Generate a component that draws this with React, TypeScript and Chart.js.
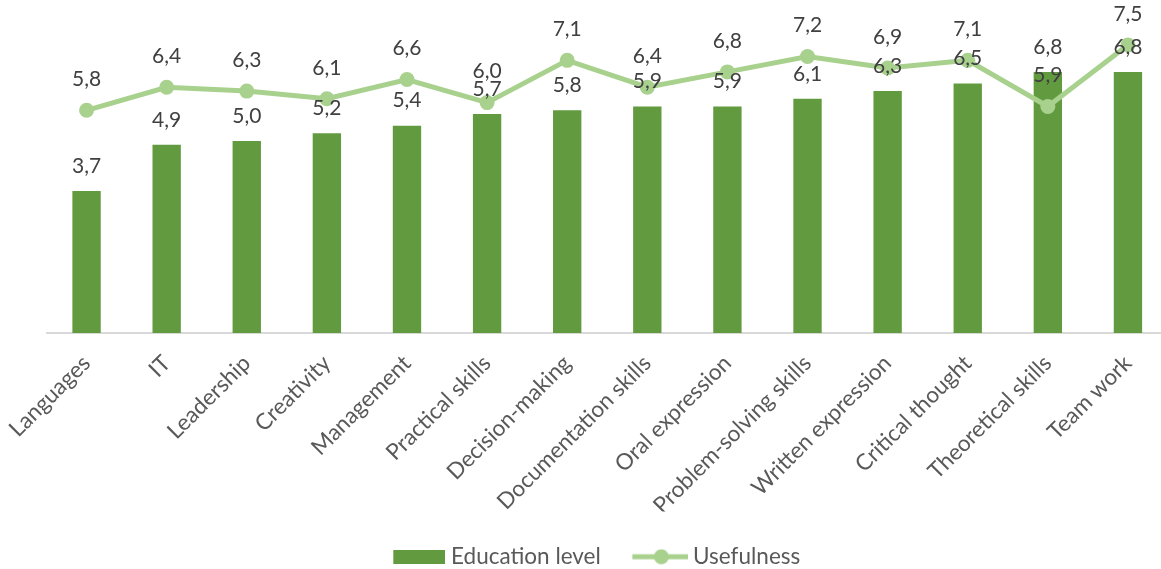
import React, { useEffect, useRef } from 'react';
import { Chart, registerables } from 'chart.js';

Chart.register(...registerables);

const categories = [
  'Languages',
  'IT',
  'Leadership',
  'Creativity',
  'Management',
  'Practical skills',
  'Decision-making',
  'Documentation skills',
  'Oral expression',
  'Problem-solving skills',
  'Written expression',
  'Critical thought',
  'Theoretical skills',
  'Team work',
];
const educationLevel = [3.7, 4.9, 5.0, 5.2, 5.4, 5.7, 5.8, 5.9, 5.9, 6.1, 6.3, 6.5, 6.8, 6.8];
const usefulness = [5.8, 6.4, 6.3, 6.1, 6.6, 6.0, 7.1, 6.4, 6.8, 7.2, 6.9, 7.1, 5.9, 7.5];
const seriesNames = ['Education level', 'Usefulness'];
const yMin = 0;
const yMax = 8;

const BAR_COLOR = '#629B3F';
const LINE_COLOR = '#A9D18E';
const FONT = 'Lato';
const LABEL_SIZE = 21;
const TEXT_SIZE = 22.5;

function makeBarSwatch() {
  const c = document.createElement('canvas');
  c.width = 58;
  c.height = 14;
  const g = c.getContext('2d')!;
  g.fillStyle = BAR_COLOR;
  g.fillRect(6, 0, 52, 14);
  return c;
}

function makeLineSwatch() {
  const c = document.createElement('canvas');
  c.width = 60;
  c.height = 16;
  const g = c.getContext('2d')!;
  g.strokeStyle = LINE_COLOR;
  g.lineWidth = 5;
  g.lineCap = 'butt';
  g.beginPath();
  g.moveTo(4, 8);
  g.lineTo(60, 8);
  g.stroke();
  g.fillStyle = LINE_COLOR;
  g.beginPath();
  g.arc(33, 8, 7.5, 0, Math.PI * 2);
  g.fill();
  return c;
}

const dataLabelsPlugin = {
  id: 'dataLabels',
  afterDatasetsDraw(chart: any) {
    const ctx = chart.ctx;
    ctx.save();
    ctx.font = `${LABEL_SIZE}px ${FONT}`;
    ctx.fillStyle = '#404040';
    ctx.textAlign = 'center';
    ctx.textBaseline = 'middle';
    chart.data.datasets.forEach((ds: any, di: number) => {
      const meta = chart.getDatasetMeta(di);
      const off = ds.type === 'line' ? 31 : 25;
      meta.data.forEach((el: any, i: number) => {
        const v = ds.data[i] as number;
        ctx.fillText(v.toFixed(1).replace('.', ','), el.x, el.y - off);
      });
    });
    ctx.restore();
  },
};

export default function App() {
  const ref = useRef<HTMLCanvasElement | null>(null);

  useEffect(() => {
    document.body.style.margin = '0';
    const canvas = ref.current;
    if (!canvas) return;
    const barSwatch = makeBarSwatch();
    const lineSwatch = makeLineSwatch();

    const chart = new Chart(canvas, {
      type: 'bar',
      data: {
        labels: categories,
        datasets: [
          {
            type: 'bar',
            label: seriesNames[0],
            data: educationLevel,
            backgroundColor: BAR_COLOR,
            borderWidth: 0,
            barPercentage: 0.354,
            categoryPercentage: 1,
            order: 2,
          } as any,
          {
            type: 'line',
            label: seriesNames[1],
            data: usefulness,
            borderColor: LINE_COLOR,
            backgroundColor: LINE_COLOR,
            borderWidth: 5,
            pointRadius: 7.5,
            pointBackgroundColor: LINE_COLOR,
            pointBorderWidth: 0,
            tension: 0,
            clip: false,
            order: 1,
          } as any,
        ],
      },
      options: {
        responsive: false,
        animation: false,
        layout: { autoPadding: false, padding: { left: 25, right: 0, top: 25.8, bottom: 0 } },
        scales: {
          x: {
            offset: true,
            grid: { display: false, drawTicks: false },
            border: { display: true, color: '#D9D9D9', width: 2 },
            ticks: {
              autoSkip: false,
              minRotation: 45,
              maxRotation: 45,
              padding: 17,
              color: '#595959',
              font: { family: FONT, size: TEXT_SIZE },
            },
            afterFit: (s: any) => {
              s.height = 178.5;
              s.paddingLeft = 0;
              s.paddingRight = 0;
            },
          },
          y: {
            min: yMin,
            max: yMax,
            display: true,
            grid: { display: false, drawTicks: false },
            border: { display: false },
            ticks: { display: false },
            afterFit: (s: any) => {
              s.width = 21.5;
              s.paddingTop = 0;
              s.paddingBottom = 0;
            },
          },
        },
        plugins: {
          tooltip: { enabled: false },
          legend: {
            display: true,
            position: 'bottom',
            labels: {
              usePointStyle: true,
              pointStyleWidth: 47,
              padding: 34,
              color: '#595959',
              font: { family: FONT, size: TEXT_SIZE },
              generateLabels: () => [
                {
                  text: seriesNames[0],
                  pointStyle: barSwatch as any,
                  fillStyle: BAR_COLOR,
                  strokeStyle: 'transparent',
                  lineWidth: 0,
                  hidden: false,
                  datasetIndex: 0,
                  fontColor: '#595959',
                },
                {
                  text: seriesNames[1],
                  pointStyle: lineSwatch as any,
                  fillStyle: LINE_COLOR,
                  strokeStyle: 'transparent',
                  lineWidth: 0,
                  hidden: false,
                  datasetIndex: 1,
                  fontColor: '#595959',
                },
              ],
            },
          },
        },
      },
      plugins: [dataLabelsPlugin],
    });
    return () => chart.destroy();
  }, []);

  return (
    <div style={{ width: 1161, height: 569, overflow: 'hidden', background: '#fff' }}>
      <div style={{ width: 1168, height: 578 }}>
        <canvas ref={ref} width={1168} height={578} style={{ width: 1168, height: 578, display: 'block' }} />
      </div>
    </div>
  );
}
